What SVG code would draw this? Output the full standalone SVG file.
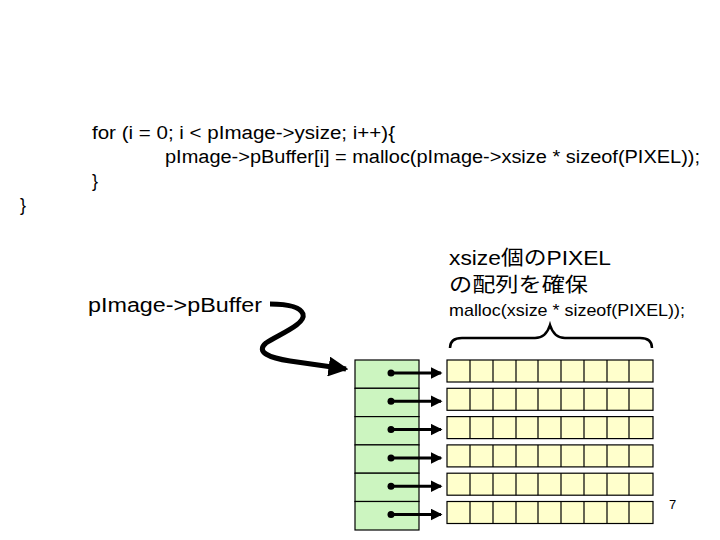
<svg xmlns="http://www.w3.org/2000/svg" width="720" height="540" viewBox="0 0 720 540">
<style>
.code{font-family:"Liberation Sans",Arial,sans-serif;font-size:18px;fill:#000}
.lbl{font-family:"Liberation Sans","Noto Sans CJK JP",sans-serif;font-size:20px;fill:#000}
.ptr{fill:#ccf5c0;stroke:#000;stroke-width:1.2}
.cell{fill:#ffffcc;stroke:#000;stroke-width:1.2}
.conn{stroke:#000;stroke-width:3;fill:none}
</style>
<defs>
<marker id="ah" markerWidth="4" markerHeight="4" refX="3.5" refY="2" orient="auto" markerUnits="strokeWidth"><path d="M0,0 L4,2 L0,4 z" fill="#000"/></marker>
<marker id="ahb" markerWidth="4" markerHeight="4" refX="3.5" refY="2" orient="auto" markerUnits="strokeWidth"><path d="M0,0 L4,2 L0,4 z" fill="#000"/></marker>
</defs>
<rect width="720" height="540" fill="#fff"/>
<g id="code">
<text class="code" x="92" y="139" textLength="303" lengthAdjust="spacingAndGlyphs">for (i = 0; i &lt; pImage-&gt;ysize; i++){</text>
<text class="code" x="165" y="163" textLength="535" lengthAdjust="spacingAndGlyphs">pImage-&gt;pBuffer[i] = malloc(pImage-&gt;xsize * sizeof(PIXEL));</text>
<text class="code" x="92" y="187">}</text>
<text class="code" x="20" y="211">}</text>
</g>
<g id="label-pbuffer">
<text class="lbl" x="88" y="312" textLength="174" lengthAdjust="spacingAndGlyphs">pImage-&gt;pBuffer</text>
</g>
<g id="label-xsize">
<text class="lbl" x="449" y="265" textLength="162" lengthAdjust="spacingAndGlyphs">xsize個のPIXEL</text>
<text class="lbl" x="449" y="292" textLength="139" lengthAdjust="spacingAndGlyphs">の配列を確保</text>
<text class="code" x="449" y="316" style="font-size:17px" textLength="236" lengthAdjust="spacingAndGlyphs">malloc(xsize * sizeof(PIXEL));</text>
</g>
<g id="brace">
<path d="M450,348 Q450,338 462,338 L535,338 Q546,338 550,325 Q554,338 565,338 L640,338 Q652,338 652,348" fill="none" stroke="#000" stroke-width="2.5"/>
</g>
<g id="pointer-array">
<rect class="ptr" x="355" y="360" width="64" height="28.3"/>
<rect class="ptr" x="355" y="388.3" width="64" height="28.3"/>
<rect class="ptr" x="355" y="416.6" width="64" height="28.3"/>
<rect class="ptr" x="355" y="444.9" width="64" height="28.3"/>
<rect class="ptr" x="355" y="473.2" width="64" height="28.3"/>
<rect class="ptr" x="355" y="501.5" width="64" height="28.5"/>
</g>
<g id="pixel-arrays">
<g id="row0"><rect class="cell" x="447" y="360" width="206" height="22"/></g>
<g id="row1"><rect class="cell" x="447" y="388.3" width="206" height="22"/></g>
<g id="row2"><rect class="cell" x="447" y="416.6" width="206" height="22"/></g>
<g id="row3"><rect class="cell" x="447" y="444.9" width="206" height="22"/></g>
<g id="row4"><rect class="cell" x="447" y="473.2" width="206" height="22"/></g>
<g id="row5"><rect class="cell" x="447" y="501.5" width="206" height="22"/></g>
<path d="M470,360v22M493,360v22M516,360v22M538,360v22M561,360v22M584,360v22M607,360v22M629,360v22
M470,388.3v22M493,388.3v22M516,388.3v22M538,388.3v22M561,388.3v22M584,388.3v22M607,388.3v22M629,388.3v22
M470,416.6v22M493,416.6v22M516,416.6v22M538,416.6v22M561,416.6v22M584,416.6v22M607,416.6v22M629,416.6v22
M470,444.9v22M493,444.9v22M516,444.9v22M538,444.9v22M561,444.9v22M584,444.9v22M607,444.9v22M629,444.9v22
M470,473.2v22M493,473.2v22M516,473.2v22M538,473.2v22M561,473.2v22M584,473.2v22M607,473.2v22M629,473.2v22
M470,501.5v22M493,501.5v22M516,501.5v22M538,501.5v22M561,501.5v22M584,501.5v22M607,501.5v22M629,501.5v22" stroke="#000" stroke-width="1.2"/>
</g>
<g id="connectors">
<path d="M270,304 C285,304 300,306 303,314 C306,324 280,334 266,343 C255,352 270,358 290,361 L346,369" fill="none" stroke="#000" stroke-width="5" marker-end="url(#ahb)"/>
<g fill="#000">
<circle cx="391" cy="373" r="3.5"/><circle cx="391" cy="401.3" r="3.5"/><circle cx="391" cy="429.6" r="3.5"/>
<circle cx="391" cy="457.9" r="3.5"/><circle cx="391" cy="486.2" r="3.5"/><circle cx="391" cy="514.5" r="3.5"/>
</g>
<line class="conn" x1="391" y1="373" x2="441" y2="373" marker-end="url(#ah)"/>
<line class="conn" x1="391" y1="401.3" x2="441" y2="401.3" marker-end="url(#ah)"/>
<line class="conn" x1="391" y1="429.6" x2="441" y2="429.6" marker-end="url(#ah)"/>
<line class="conn" x1="391" y1="457.9" x2="441" y2="457.9" marker-end="url(#ah)"/>
<line class="conn" x1="391" y1="486.2" x2="441" y2="486.2" marker-end="url(#ah)"/>
<line class="conn" x1="391" y1="514.5" x2="441" y2="514.5" marker-end="url(#ah)"/>
</g>
<text x="669" y="509" style="font-family:'Liberation Sans',sans-serif;font-size:13px">7</text>
</svg>
